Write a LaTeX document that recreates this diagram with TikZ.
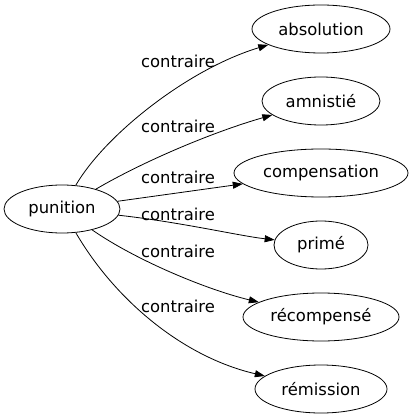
\documentclass[tikz,border=0pt]{standalone}
\usepackage{fontspec}
\setmainfont{DejaVu Sans}
\usetikzlibrary{shapes.geometric,arrows.meta}
\begin{document}
\begin{tikzpicture}[x=1pt,y=-1pt,
  word/.style={draw,ellipse,inner sep=0pt,minimum height=48pt,font=\fontsize{16.4}{18}\selectfont,line width=0.8pt},
  rel/.style={font=\fontsize{16.4}{18}\selectfont,inner sep=0pt},
  link/.style={line width=0.8pt,-{Triangle[length=10pt,width=7pt]}}]
\useasboundingbox (0,0) rectangle (413,419);
\node[word,minimum width=116pt] (p) at (62,209) {punition};
\node[word,minimum width=138pt] (a) at (321,29) {absolution};
\node[word,minimum width=118pt] (b) at (321,101) {amnistié};
\node[word,minimum width=174pt] (c) at (321,173) {compensation};
\node[word,minimum width=94pt] (d) at (321,245) {primé};
\node[word,minimum width=156pt] (e) at (321,317) {récompensé};
\node[word,minimum width=132pt] (f) at (321,389) {rémission};
\draw[link] (p) .. controls (105,135) and (188,69) .. (a);
\draw[link] (p) .. controls (144,161) and (213,132) .. (b);
\draw[link] (p) -- (c);
\draw[link] (p) .. controls (180,222) and (240,236) .. (d);
\draw[link] (p) .. controls (137,261) and (208,290) .. (e);
\draw[link] (p) .. controls (115,300) and (183,357) .. (f);
\node[rel] (l1) at (178,61) {contraire};
\node[rel] (l2) at (178,126) {contraire};
\node[rel] (l3) at (178,177) {contraire};
\node[rel] (l4) at (178,214) {contraire};
\node[rel] (l5) at (178,251) {contraire};
\node[rel] (l6) at (178,306) {contraire};
\end{tikzpicture}
\end{document}
